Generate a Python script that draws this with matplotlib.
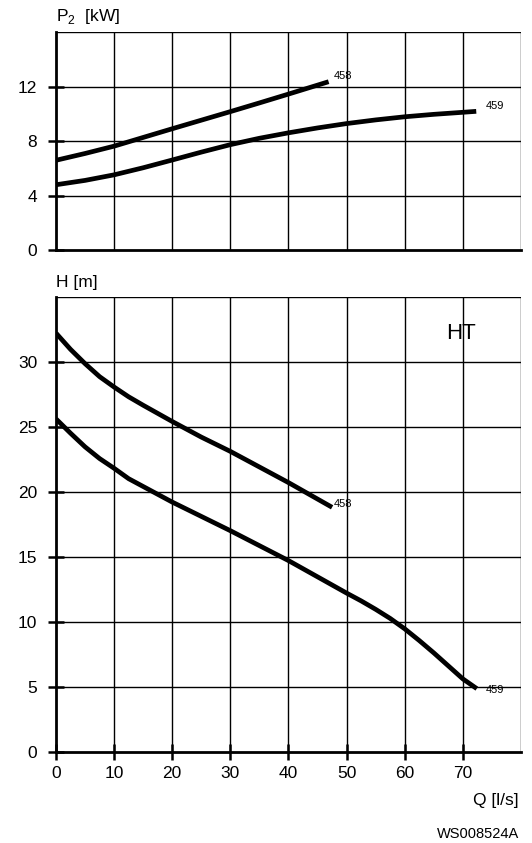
import matplotlib
matplotlib.use('Agg')
import matplotlib.pyplot as plt
import numpy as np

plt.rcParams['font.family'] = ['Liberation Sans', 'DejaVu Sans']
plt.rcParams['mathtext.fontset'] = 'custom'
plt.rcParams['mathtext.rm'] = 'Liberation Sans'

# P2 curves (upper panel)
q_p458 = [0, 5, 10, 15, 20, 25, 30, 35, 40, 46.9]
p_458 = [6.6, 7.1, 7.64, 8.28, 8.92, 9.55, 10.18, 10.82, 11.47, 12.38]
q_p459 = [0, 5, 10, 15, 20, 25, 30, 35, 40, 45, 50, 55, 60, 65, 70, 72.3]
p_459 = [4.8, 5.12, 5.53, 6.05, 6.62, 7.2, 7.75, 8.22, 8.62, 8.98, 9.3, 9.57, 9.8, 9.98, 10.13, 10.2]

# H curves (lower panel)
q_h458 = [0, 2.5, 5, 7.5, 10, 12.5, 15, 20, 25, 30, 35, 40, 47.5]
h_458 = [32.2, 30.95, 29.85, 28.85, 28.05, 27.3, 26.65, 25.4, 24.2, 23.1, 21.9, 20.7, 18.8]
q_h459 = [0, 2.5, 5, 7.5, 10, 12.5, 15, 20, 25, 30, 35, 40, 45, 50, 52.5, 55, 57.5, 60, 62.5, 65, 67.5, 70, 72.4]
h_459 = [25.6, 24.5, 23.45, 22.55, 21.8, 21.0, 20.4, 19.2, 18.1, 17.0, 15.85, 14.7, 13.45, 12.2, 11.6, 10.95, 10.25, 9.45, 8.55, 7.6, 6.6, 5.6, 4.85]

x_ticks = [0, 10, 20, 30, 40, 50, 60, 70]
p_ticks = [0, 4, 8, 12]
h_ticks = [0, 5, 10, 15, 20, 25, 30]

txtsize = 12.5
lw_curve = 3.4
lw_grid = 1.0
lw_spine = 2.0

fig = plt.figure(figsize=(5.32, 8.43), dpi=100)
ax_p = fig.add_axes([0.10526, 0.70344, 0.87406, 0.25801])
ax_h = fig.add_axes([0.10526, 0.10830, 0.87406, 0.53974])

def style_axis(ax, ymax, yticks, show_x):
	ax.set_xlim(0, 80)
	ax.set_ylim(0, ymax)
	# grid lines drawn by hand so they sit on the full grid (incl. top and right edge)
	for x in range(10, 81, 10):
		ax.axvline(x, color='black', lw=lw_grid, zorder=1)
	step = yticks[1] - yticks[0]
	for y in np.arange(step, ymax + 0.01, step):
		ax.axhline(y, color='black', lw=lw_grid, zorder=1)
	ax.spines['top'].set_visible(False)
	ax.spines['right'].set_visible(False)
	ax.spines['left'].set_linewidth(lw_spine)
	ax.spines['bottom'].set_linewidth(lw_spine)
	ax.set_yticks(yticks)
	ax.tick_params(axis='y', direction='inout', length=11, width=1.8, pad=8, labelsize=txtsize)
	if show_x:
		ax.set_xticks(x_ticks)
		ax.tick_params(axis='x', direction='inout', length=11, width=1.8, pad=5, labelsize=txtsize)
	else:
		ax.set_xticks([])

style_axis(ax_p, 16, p_ticks, False)
style_axis(ax_h, 35, h_ticks, True)

for ax, q, v in [(ax_p, q_p458, p_458), (ax_p, q_p459, p_459), (ax_h, q_h458, h_458), (ax_h, q_h459, h_459)]:
	ax.plot(q, v, color='black', lw=lw_curve, solid_capstyle='butt', solid_joinstyle='round', zorder=3)

# curve names
ax_p.text(47.7, 12.8, '458', fontsize=8, ha='left', va='center')
ax_p.text(73.9, 10.6, '459', fontsize=8, ha='left', va='center')
ax_h.text(47.8, 19.05, '458', fontsize=8, ha='left', va='center')
ax_h.text(73.9, 4.75, '459', fontsize=8, ha='left', va='center')
ax_h.text(69.7, 32.2, 'HT', fontsize=16, ha='center', va='center')

# axis titles
fig.text(56 / 532, 1 - 17 / 843, r'P$_\mathregular{2}$  [kW]', fontsize=txtsize, ha='left', va='center')
fig.text(56 / 532, 1 - 282 / 843, 'H [m]', fontsize=txtsize, ha='left', va='center')
fig.text(519 / 532, 1 - 801 / 843, 'Q [l/s]', fontsize=txtsize, ha='right', va='center')
fig.text(519 / 532, 1 - 834 / 843, 'WS008524A', fontsize=10.5, ha='right', va='center')

fig.savefig('out.png', dpi=100)
